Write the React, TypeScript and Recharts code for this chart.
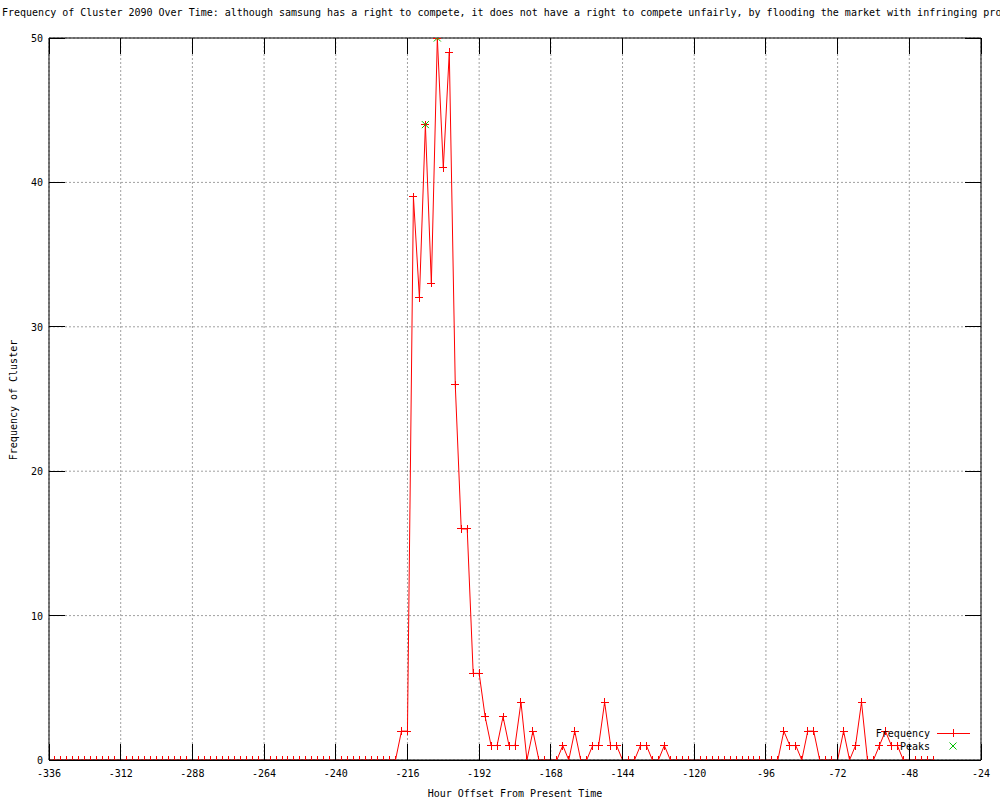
import React from "react";
import {
  ComposedChart,
  Line,
  XAxis,
  YAxis,
  CartesianGrid,
  Legend,
  ReferenceLine,
  Customized,
} from "recharts";

// Hour offsets: every 2 hours from -336 to -40
const START_HOUR = -336;
const STEP_HOURS = 2;

// Frequency of cluster at each hour offset
const frequency: number[] = [
  // -336 .. -220 (59 points)
  0, 0, 0, 0, 0, 0, 0, 0, 0, 0,
  0, 0, 0, 0, 0, 0, 0, 0, 0, 0,
  0, 0, 0, 0, 0, 0, 0, 0, 0, 0,
  0, 0, 0, 0, 0, 0, 0, 0, 0, 0,
  0, 0, 0, 0, 0, 0, 0, 0, 0, 0,
  0, 0, 0, 0, 0, 0, 0, 0, 0,
  // -218 .. -128
  2, 2, 39, 32, 44, 33, 50, 41, 49, 26,
  16, 16, 6, 6, 3, 1, 1, 3, 1, 1,
  4, 0, 2, 0, 0, 0, 0, 1, 0, 2,
  0, 0, 1, 1, 4, 1, 1, 0, 0, 0,
  1, 1, 0, 0, 1, 0,
  // -126 .. -92
  0, 0, 0, 0, 0, 0, 0, 0, 0, 0,
  0, 0, 0, 0, 0, 0, 0, 0,
  // -90 .. -40
  2, 1, 1, 0, 2, 2, 0, 0, 0, 0,
  2, 0, 1, 4, 0, 0, 1, 2, 1, 1,
  0, 0, 0, 0, 0, 0,
];

const hours: number[] = frequency.map((_, i) => START_HOUR + i * STEP_HOURS);

const peakHours: number[] = [-210, -206];
const peakValues: number[] = [44, 50];

const xTicks: number[] = [-336, -312, -288, -264, -240, -216, -192, -168, -144, -120, -96, -72, -48, -24];
const yTicks: number[] = [0, 10, 20, 30, 40, 50];

// The reference's title runs off the right edge; only the visible part is kept.
const TITLE =
  "Frequency of Cluster 2090 Over Time: although samsung has a right to compete, it does not have a right to compete unfairly, by flooding the market with infringing pro";
const X_LABEL = "Hour Offset From Present Time";
const Y_LABEL = "Frequency of Cluster";

const freqData = hours.map((h, i) => ({ hour: h, freq: frequency[i] }));
const peakData = peakHours.map((h, i) => ({ hour: h, peak: peakValues[i] }));

const FONT = "'DejaVu Sans Mono', 'Liberation Mono', monospace";
const RED = "#ff0000";
const GREEN = "#00c000";
const TICK_LEN = 16;

const PlusDot = (props: any) => {
  const { cx, cy, index } = props;
  if (cx == null || cy == null) return <g key={`p${index}`} />;
  return (
    <path
      key={`p${index}`}
      d={`M${cx - 4},${cy}H${cx + 4}M${cx},${cy - 4}V${cy + 4}`}
      stroke={RED}
      strokeWidth={1}
      fill="none"
      shapeRendering="crispEdges"
    />
  );
};

const CrossDot = (props: any) => {
  const { cx, cy, index } = props;
  if (cx == null || cy == null) return <g key={`c${index}`} />;
  return (
    <path
      key={`c${index}`}
      d={`M${cx - 3.5},${cy - 3.5}L${cx + 3.5},${cy + 3.5}M${cx - 3.5},${cy + 3.5}L${cx + 3.5},${cy - 3.5}`}
      stroke={GREEN}
      strokeWidth={1}
      fill="none"
    />
  );
};

const BottomTick = (props: any) => {
  const { x, y, payload } = props;
  return (
    <g>
      <line x1={x} x2={x} y1={y} y2={y - TICK_LEN} stroke="#000" shapeRendering="crispEdges" />
      <text x={x} y={y + 17} textAnchor="middle" fontFamily={FONT} fontSize={10} fill="#000">
        {payload.value}
      </text>
    </g>
  );
};

const TopTick = (props: any) => {
  const { x, y } = props;
  return <line x1={x} x2={x} y1={y} y2={y + TICK_LEN} stroke="#000" shapeRendering="crispEdges" />;
};

const LeftTick = (props: any) => {
  const { x, y, payload } = props;
  return (
    <g>
      <line x1={x} x2={x + TICK_LEN} y1={y} y2={y} stroke="#000" shapeRendering="crispEdges" />
      <text x={x - 6} y={y + 4} textAnchor="end" fontFamily={FONT} fontSize={10} fill="#000">
        {payload.value}
      </text>
    </g>
  );
};

const RightTick = (props: any) => {
  const { x, y } = props;
  return <line x1={x} x2={x - TICK_LEN} y1={y} y2={y} stroke="#000" shapeRendering="crispEdges" />;
};

const Labels = () => (
  <g fontFamily={FONT} fontSize={10} fill="#000">
    <text x={2} y={16} textAnchor="start">{TITLE}</text>
    <text x={515} y={797} textAnchor="middle">{X_LABEL}</text>
    <text x={17} y={400} textAnchor="middle" transform="rotate(-90 17 400)">{Y_LABEL}</text>
  </g>
);

const LegendContent = () => (
  <svg width={140} height={40} style={{ display: "block", overflow: "visible" }}>
    <g fontFamily={FONT} fontSize={10} fill="#000">
      <text x={70} y={12} textAnchor="end">Frequency</text>
      <text x={70} y={25} textAnchor="end">Peaks</text>
    </g>
    <line x1={77} x2={110} y1={8} y2={8} stroke={RED} shapeRendering="crispEdges" />
    <path d="M89,8H97M93,4V12" stroke={RED} fill="none" shapeRendering="crispEdges" />
    <path d="M89.5,17.5L96.5,24.5M89.5,24.5L96.5,17.5" stroke={GREEN} fill="none" />
  </svg>
);

export default function App() {
  return (
    <div style={{ position: "absolute", left: 0, top: 0, width: 1000, height: 800, background: "#fff" }}>
      <ComposedChart
        width={1000}
        height={800}
        data={freqData}
        margin={{ top: 8, right: 0, bottom: 0, left: 0 }}
      >
        <CartesianGrid
          stroke="#a0a0a0"
          strokeDasharray="2 2"
          horizontalValues={yTicks}
          verticalValues={xTicks}
        />
        <XAxis
          dataKey="hour"
          type="number"
          domain={[-336, -24]}
          ticks={xTicks}
          interval={0}
          height={40}
          tickSize={0}
          tickMargin={0}
          tickLine={false}
          axisLine={{ stroke: "#000" }}
          tick={BottomTick}
          allowDataOverflow
        />
        <XAxis
          xAxisId="top"
          orientation="top"
          dataKey="hour"
          type="number"
          domain={[-336, -24]}
          ticks={xTicks}
          interval={0}
          height={30}
          tickSize={0}
          tickMargin={0}
          tickLine={false}
          axisLine={{ stroke: "#000" }}
          tick={TopTick}
          allowDataOverflow
        />
        <YAxis
          type="number"
          domain={[0, 50]}
          ticks={yTicks}
          interval={0}
          width={49}
          tickSize={0}
          tickMargin={0}
          tickLine={false}
          axisLine={{ stroke: "#000" }}
          tick={LeftTick}
          allowDataOverflow
        />
        <YAxis
          yAxisId="right"
          orientation="right"
          type="number"
          domain={[0, 50]}
          ticks={yTicks}
          interval={0}
          width={19}
          tickSize={0}
          tickMargin={0}
          tickLine={false}
          axisLine={{ stroke: "#000" }}
          tick={RightTick}
          allowDataOverflow
        />
        <Line
          type="linear"
          dataKey="freq"
          stroke={RED}
          strokeWidth={1}
          dot={PlusDot}
          activeDot={false}
          isAnimationActive={false}
          name="Frequency"
        />
        <Line
          data={peakData}
          type="linear"
          dataKey="peak"
          stroke="none"
          dot={CrossDot}
          activeDot={false}
          isAnimationActive={false}
          name="Peaks"
          {...({ zIndex: 2000 } as any)}
        />
        <ReferenceLine
          y={0}
          stroke="#000"
          strokeWidth={1}
          shapeRendering="crispEdges"
          {...({ zIndex: 1500 } as any)}
        />
        <Legend
          layout="vertical"
          align="center"
          verticalAlign="middle"
          content={LegendContent}
          wrapperStyle={{ position: "absolute", left: 860, top: 725, width: 140, height: 40 }}
        />
        <Customized component={Labels} />
      </ComposedChart>
    </div>
  );
}
